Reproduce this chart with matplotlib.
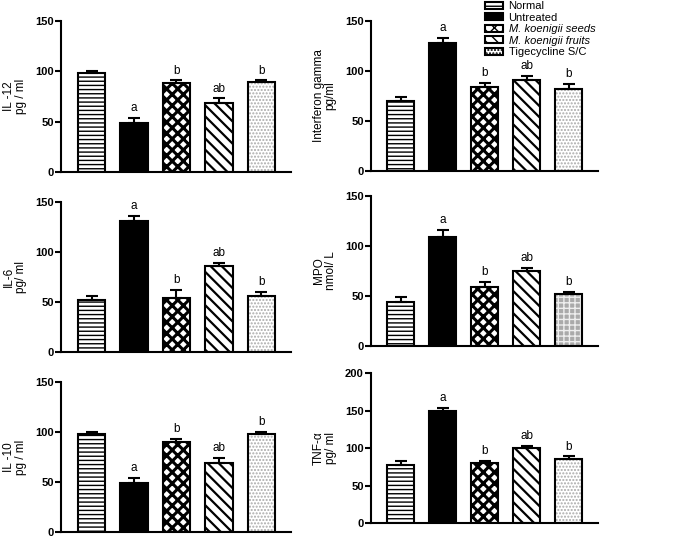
import numpy as np
import matplotlib
matplotlib.use("Agg")
import matplotlib.pyplot as plt
from matplotlib.patches import Patch

plt.rcParams['font.family'] = ['Liberation Sans', 'DejaVu Sans']

groups = ['Normal', 'Untreated', 'M. koenigii seeds', 'M. koenigii fruits', 'Tigecycline S/C']

il12 = [98, 49, 88, 68, 89]
il12_err = [2, 5, 3, 5, 2]
ifng = [70, 128, 84, 91, 82]
ifng_err = [4, 5, 4, 4, 5]
il6 = [52, 131, 54, 86, 56]
il6_err = [4, 5, 8, 3, 4]
mpo = [44, 109, 59, 75, 52]
mpo_err = [5, 7, 5, 3, 2]
il10 = [98, 49, 90, 69, 98]
il10_err = [2, 5, 3, 5, 2]
tnf = [77, 149, 80, 100, 86]
tnf_err = [6, 5, 3, 3, 3]

letters = ['', 'a', 'b', 'ab', 'b']

fig = plt.figure(figsize=(6.85, 5.37), dpi=100)

# [left, bottom, width, height] in figure fractions
panels = [
    ([0.089, 0.680, 0.336, 0.281], il12, il12_err, 'IL -12\npg / ml', 150, False),
    ([0.541, 0.682, 0.332, 0.279], ifng, ifng_err, 'Interferon gamma\npg/ml', 150, False),
    ([0.089, 0.345, 0.336, 0.279], il6, il6_err, 'IL-6\npg/ ml', 150, False),
    ([0.541, 0.356, 0.332, 0.279], mpo, mpo_err, 'MPO\nnmol/ L', 150, True),
    ([0.089, 0.009, 0.336, 0.280], il10, il10_err, 'IL -10\npg / ml', 150, False),
    ([0.541, 0.026, 0.332, 0.279], tnf, tnf_err, 'TNF-α\npg/ ml', 200, False),
]

x = np.arange(len(groups))
w = 0.65


def draw_bars(ax, vals, brick=False):
    # Normal
    ax.bar(x[0], vals[0], w, facecolor='white', edgecolor='black', hatch='----', lw=1.5)
    # Untreated
    ax.bar(x[1], vals[1], w, facecolor='black', edgecolor='black', lw=1.5)
    # seeds
    with plt.rc_context({'hatch.linewidth': 2.2}):
        ax.bar(x[2], vals[2], w, facecolor='white', edgecolor='black', hatch='xxx', lw=1.5)
    # fruits
    with plt.rc_context({'hatch.linewidth': 1.6}):
        ax.bar(x[3], vals[3], w, facecolor='white', edgecolor='black', hatch='\\\\\\', lw=1.5)
    # tigecycline
    if brick:
        ax.bar(x[4], vals[4], w, facecolor='#aaaaaa', edgecolor='#eeeeee', hatch='+++', lw=0)
    else:
        ax.bar(x[4], vals[4], w, facecolor='white', edgecolor='#aaaaaa', hatch='.....', lw=0)
    ax.bar(x[4], vals[4], w, fill=False, edgecolor='black', lw=1.5)


for rect, vals, errs, ylabel, ymax, brick in panels:
    ax = fig.add_axes(rect)
    draw_bars(ax, vals, brick)
    ax.errorbar(x, vals, yerr=[np.zeros(len(errs)), errs], fmt='none',
                ecolor='black', elinewidth=1.5, capsize=4.5, capthick=1.5)
    for i in range(len(x)):
        if letters[i]:
            ax.text(x[i], vals[i] + errs[i] + ymax * 0.025, letters[i],
                    ha='center', va='bottom', fontsize=8.5)
    ax.set_xlim(-0.72, 4.7)
    ax.set_ylim(0, ymax)
    ax.set_yticks(np.arange(0, ymax + 1, 50))
    ax.set_xticks([])
    ax.spines['top'].set_visible(False)
    ax.spines['right'].set_visible(False)
    ax.spines['left'].set_linewidth(1.5)
    ax.spines['bottom'].set_linewidth(1.5)
    ax.tick_params(axis='y', length=4, width=1.5, labelsize=8, pad=1)
    for t in ax.get_yticklabels():
        t.set_fontweight('bold')
    ax.set_ylabel(ylabel, fontsize=8.5, labelpad=6, linespacing=1.0)

handles = [
    Patch(facecolor='white', edgecolor='black', hatch='----', lw=1.5),
    Patch(facecolor='black', edgecolor='black', lw=1.5),
    Patch(facecolor='white', edgecolor='black', hatch='xxx', lw=1.5),
    Patch(facecolor='white', edgecolor='black', hatch='\\\\\\', lw=1.5),
    Patch(facecolor='white', edgecolor='black', hatch='.....', lw=1.5),
]
leg = fig.legend(handles, groups, loc='upper left', bbox_to_anchor=(0.697, 1.012),
                 frameon=False, fontsize=8, handlelength=1.6, handleheight=0.6,
                 labelspacing=0.13, handletextpad=0.5, borderpad=0.2)
leg.get_texts()[2].set_style('italic')
leg.get_texts()[3].set_style('italic')

fig.savefig('out.png', dpi=100)
